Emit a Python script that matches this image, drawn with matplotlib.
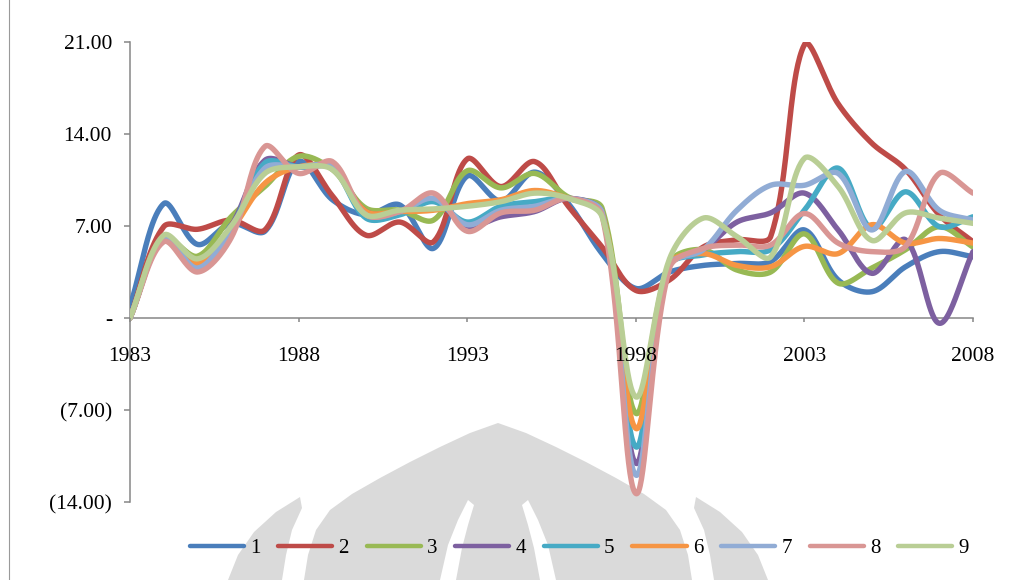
import matplotlib
matplotlib.use("Agg")
import matplotlib.pyplot as plt
from matplotlib.patches import Polygon
from matplotlib.lines import Line2D
import numpy as np

# %% data
years = list(range(1983, 2009))
series_names = ['1', '2', '3', '4', '5', '6', '7', '8', '9']

s1 = [0.9, 8.7, 5.6, 7.2, 6.6, 11.9, 9.0, 7.85, 8.6, 5.3, 10.8, 8.9, 11.1,
      8.7, 4.9, 2.25, 3.5, 4.0, 4.15, 4.3, 6.7, 2.9, 2.0, 3.9, 5.05, 4.65]
s2 = [0.0, 6.95, 6.75, 7.45, 6.7, 12.4, 9.3, 6.3, 7.3, 5.8, 12.1, 10.0, 11.9,
      8.5, 5.4, 2.1, 2.9, 5.4, 5.95, 6.2, 20.8, 16.3, 13.3, 11.3, 7.85, 5.8]
s3 = [0.0, 6.1, 4.7, 7.7, 10.0, 12.3, 11.3, 8.35, 8.2, 7.45, 11.2, 9.9, 11.0,
      9.2, 8.35, -7.25, 4.2, 5.2, 3.65, 3.5, 6.4, 2.65, 3.8, 5.2, 6.95, 5.4]
s4 = [0.0, 6.1, 4.0, 7.0, 12.0, 11.5, 11.4, 8.1, 8.1, 9.0, 7.0, 7.7, 8.1,
      9.1, 8.0, -11.05, 4.0, 5.2, 7.3, 8.0, 9.5, 6.7, 3.4, 5.95, -0.4, 5.05]
s5 = [0.0, 6.1, 3.9, 6.8, 11.8, 11.5, 11.4, 7.6, 7.85, 8.85, 7.3, 8.5, 8.85,
      9.1, 8.0, -9.8, 4.0, 4.8, 5.05, 5.2, 8.2, 11.4, 6.8, 9.6, 6.95, 7.7]
s6 = [0.0, 6.1, 4.15, 6.7, 10.25, 11.5, 11.4, 8.1, 8.1, 8.2, 8.7, 9.0, 9.7,
      9.1, 8.0, -8.4, 4.1, 4.9, 4.0, 3.9, 5.45, 4.9, 7.1, 5.7, 6.05, 5.7]
s7 = [0.0, 6.0, 3.8, 6.7, 11.4, 11.5, 11.5, 7.85, 8.1, 9.1, 7.1, 8.2, 8.5,
      9.1, 8.0, -11.95, 4.0, 5.2, 8.2, 10.1, 10.1, 11.0, 6.7, 11.15, 8.2, 7.45]
s8 = [0.0, 5.8, 3.5, 6.1, 13.05, 11.0, 11.9, 7.85, 8.1, 9.5, 6.6, 8.0, 8.2,
      9.1, 7.8, -13.35, 3.8, 5.3, 5.55, 5.55, 7.95, 5.7, 5.05, 5.45, 11.0, 9.5]
s9 = [0.0, 6.3, 4.5, 7.0, 11.0, 11.5, 11.3, 7.85, 8.2, 8.3, 8.5, 8.85, 9.5,
      9.1, 7.7, -6.0, 4.5, 7.6, 6.2, 4.65, 12.15, 10.0, 5.9, 8.0, 7.6, 7.2]
series = [s1, s2, s3, s4, s5, s6, s7, s8, s9]

colors = ['#4A7EBB', '#BE4B48', '#98B954', '#7D60A0', '#46AAC5',
          '#F69544', '#91ACD5', '#D99694', '#B9CE95']

ytick_vals = [-14, -7, 0, 7, 14, 21]
xtick_vals = [1983, 1988, 1993, 1998, 2003, 2008]


def acct(v):
    # accounting style labels: 7.00 / - / (7.00)
    if v == 0:
        return '-'
    if v < 0:
        return '(%.2f)' % abs(v)
    return '%.2f' % v


def smooth(x, y, sx=33.7, sy=13.1, n=40):
    # bezier smoothing through every point; tangents split by chord length
    # (worked out in screen-like units so steep drops don't overshoot)
    p = np.column_stack([np.asarray(x, float) * sx, np.asarray(y, float) * sy])
    pp = np.vstack([p[0], p, p[-1]])
    m = len(p)
    c_in = np.zeros_like(p)
    c_out = np.zeros_like(p)
    for i in range(m):
        prev, cur, nxt = pp[i], pp[i + 1], pp[i + 2]
        d1 = np.hypot(*(cur - prev))
        d2 = np.hypot(*(nxt - cur))
        tan = nxt - prev
        tot = d1 + d2 if d1 + d2 > 0 else 1.0
        c_in[i] = cur - tan * d1 / (3 * tot)
        c_out[i] = cur + tan * d2 / (3 * tot)
    t = np.linspace(0, 1, n)[:, None]
    out = []
    for i in range(m - 1):
        a, b, c, d = p[i], c_out[i], c_in[i + 1], p[i + 1]
        seg = ((1 - t) ** 3) * a + 3 * ((1 - t) ** 2) * t * b \
            + 3 * (1 - t) * t ** 2 * c + t ** 3 * d
        out.append(seg if i == 0 else seg[1:])
    out = np.vstack(out)
    return out[:, 0] / sx, out[:, 1] / sy


plt.rcParams['font.family'] = ['Liberation Serif', 'DejaVu Serif']

W, H = 1009, 580
fig = plt.figure(figsize=(W / 100, H / 100), dpi=100)
fig.patch.set_facecolor('white')

# chart-area border on the left
fig.add_artist(Line2D([9 / W, 9 / W], [0, 1], transform=fig.transFigure,
                      color='#9A9A9A', lw=0.8, zorder=-1))


# %% faint logo behind the plot (pixel coords from top-left)
def px_poly(pts, color, z):
    pts = [(x / W, 1 - y / H) for x, y in pts]
    fig.add_artist(Polygon(pts, closed=True, transform=fig.transFigure,
                           facecolor=color, edgecolor='none', zorder=z))


grey = '#DADADA'
dome = [(498, 423), (470, 433), (440, 447), (410, 462), (380, 478), (352, 494),
        (330, 510), (316, 530), (308, 555), (304, 580),
        (692, 580), (688, 555), (680, 530), (666, 510), (644, 494),
        (616, 478), (586, 462), (556, 447), (526, 433)]
px_poly(dome, grey, -3)
left_arc = [(300, 497), (276, 512), (254, 532), (238, 555), (228, 580),
            (282, 580), (286, 555), (292, 530), (302, 508)]
right_arc = [(696, 497), (720, 512), (742, 532), (758, 555), (768, 580),
             (714, 580), (710, 555), (704, 530), (694, 508)]
px_poly(left_arc, grey, -3)
px_poly(right_arc, grey, -3)
# white slots inside the dome
slot_l = [(468, 500), (458, 520), (448, 545), (440, 580), (456, 580),
          (462, 548), (468, 525), (474, 505)]
slot_r = [(528, 500), (538, 520), (548, 545), (556, 580), (540, 580),
          (534, 548), (528, 525), (522, 505)]
px_poly(slot_l, 'white', -2)
px_poly(slot_r, 'white', -2)

# %% chart
ax = fig.add_axes([130 / W, 1 - 502 / H, (973 - 130) / W, (502 - 42) / H])
ax.set_facecolor('none')
ax.set_axisbelow(False)

for name, vals, col in zip(series_names, series, colors):
    sx, sy = smooth(years, vals)
    ax.plot(sx, sy, color=col, lw=3.9, label=name, solid_capstyle='round',
            solid_joinstyle='round')

ax.set_xlim(1983, 2008)
ax.set_ylim(-14, 21)

for side in ['top', 'right']:
    ax.spines[side].set_visible(False)
ax.spines['bottom'].set_position(('data', 0))
for side in ['left', 'bottom']:
    ax.spines[side].set_color('#868686')
    ax.spines[side].set_linewidth(1.1)
    ax.spines[side].set_zorder(1.5)

ax.set_yticks(ytick_vals)
ax.set_yticklabels([acct(v) for v in ytick_vals])
ax.set_xticks(xtick_vals)
ax.set_xticklabels([str(v) for v in xtick_vals])
ax.tick_params(axis='y', direction='out', length=4, width=1.1,
               color='#868686', pad=9, labelsize=15.5)
ax.tick_params(axis='x', direction='out', length=3, width=1.1,
               color='#868686', pad=18, labelsize=15.5)

leg = fig.legend(loc='center', bbox_to_anchor=(0.574, 0.055), ncol=9,
                 frameon=False, fontsize=15, handlelength=2.6,
                 handletextpad=0.3, columnspacing=0.85)
for h in leg.get_lines():
    h.set_linewidth(3.2)

fig.savefig('out.png', dpi=100)
plt.close()
